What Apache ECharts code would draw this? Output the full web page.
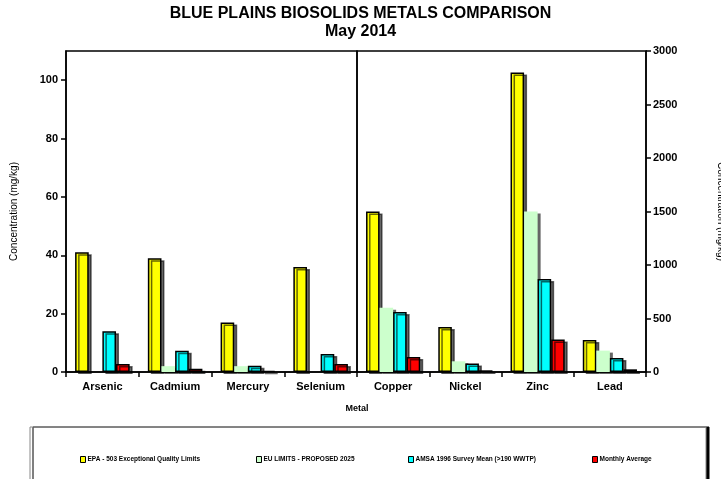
<!DOCTYPE html>
<html lang="en">
<head>
    <meta charset="UTF-8">
    <title>Blue Plains Biosolids Metals Comparison</title>
    <script src="https://cdn.jsdelivr.net/npm/echarts@6/dist/echarts.min.js"></script>
    <style>
        html, body { margin: 0; padding: 0; background: #fff; }
        #main { width: 721px; height: 479px; }
    </style>
</head>
<body>
<div id="main"></div>
<script type="text/javascript">
    // categories: left half uses the small scale, right half the big one
    var metalsLeft = ['Arsenic', 'Cadmium', 'Mercury', 'Selenium'];
    var metalsRight = ['Copper', 'Nickel', 'Zinc', 'Lead'];

    var seriesNames = ['EPA - 503 Exceptional Quality Limits', 'EU LIMITS - PROPOSED 2025',
        'AMSA 1996 Survey Mean (>190 WWTP)', 'Monthly Average'];

    var epaLeft = [41, 39, 17, 36];
    var euLeft = [null, 2, 2, null];
    var amsaLeft = [14, 7.3, 2.1, 6.2];
    var monthlyLeft = [2.7, 1.1, 0.3, 2.7];

    var epaRight = [1500, 420, 2800, 300];
    var euRight = [600, 100, 1500, 200];
    var amsaRight = [560, 79, 869, 131];
    var monthlyRight = [141, 16, 303, 25];

    var leftTicks = {min: 0, max: 110, interval: 20};
    var rightTicks = {min: 0, max: 3000, interval: 500};

    var font = "'Liberation Sans', Arial, sans-serif";
    var colors = ['#ffff00', '#ccffcc', '#00ffff', '#ff0000'];

    function barStyle(i) {
        return {
            color: colors[i],
            borderColor: i === 1 ? 'transparent' : '#000',
            borderWidth: i === 1 ? 0 : 1.5,
            shadowColor: 'rgba(0,0,0,0.6)',
            shadowOffsetX: 3,
            shadowOffsetY: 2,
            shadowBlur: 0
        };
    }

    var leftData = [epaLeft, euLeft, amsaLeft, monthlyLeft];
    var rightData = [epaRight, euRight, amsaRight, monthlyRight];
    var series = [];
    for (var i = 0; i < 4; i++) {
        series.push({
            name: seriesNames[i], type: 'bar', xAxisIndex: 0, yAxisIndex: 0,
            barGap: 0, barCategoryGap: '25%', itemStyle: barStyle(i), data: leftData[i]
        });
    }
    for (var j = 0; j < 4; j++) {
        series.push({
            name: seriesNames[j], type: 'bar', xAxisIndex: 1, yAxisIndex: 1,
            barGap: 0, barCategoryGap: '25%', itemStyle: barStyle(j), data: rightData[j]
        });
    }

    var legendX = [75, 251, 403, 587];
    var legends = [];
    for (var k = 0; k < 4; k++) {
        legends.push({
            data: [seriesNames[k]],
            left: legendX[k], top: 451,
            icon: 'rect', itemWidth: 5, itemHeight: 6, itemGap: 2,
            selectedMode: false,
            itemStyle: {borderColor: '#000', borderWidth: 1},
            textStyle: {fontFamily: font, fontSize: 6.5, fontWeight: 'bold', color: '#000', padding: [0, 0, 0, -3]}
        });
    }

    var catAxis = function (grid, data) {
        return {
            type: 'category', gridIndex: grid, data: data,
            axisLine: {lineStyle: {color: '#000', width: 1.5}},
            axisTick: {show: true, length: 5, lineStyle: {color: '#000', width: 1.5}},
            axisLabel: {fontFamily: font, fontSize: 11, fontWeight: 'bold', color: '#000', margin: 9}
        };
    };

    var option = {
        animation: false,
        title: {
            text: 'BLUE PLAINS BIOSOLIDS METALS COMPARISON\nMay 2014',
            left: 'center', top: 0,
            textStyle: {fontFamily: font, fontSize: 16, fontWeight: 'bold', color: '#000', lineHeight: 18}
        },
        legend: legends,
        grid: [
            {left: 66, right: 364, top: 51, bottom: 107, show: true, borderColor: '#000', borderWidth: 1.5, outerBoundsMode: 'none'},
            {left: 357, right: 75, top: 51, bottom: 107, show: true, borderColor: '#000', borderWidth: 1.5, outerBoundsMode: 'none'}
        ],
        xAxis: [catAxis(0, metalsLeft), catAxis(1, metalsRight)],
        yAxis: [
            {
                type: 'value', gridIndex: 0, position: 'left',
                min: leftTicks.min, max: leftTicks.max, interval: leftTicks.interval,
                name: 'Concentration (mg/kg)', nameLocation: 'middle', nameGap: 47,
                nameTextStyle: {fontFamily: font, fontSize: 10, color: '#000'},
                splitLine: {show: false},
                axisLine: {show: true, lineStyle: {color: '#000', width: 1.5}},
                axisTick: {show: true, length: 5, lineStyle: {color: '#000', width: 1.5}},
                axisLabel: {fontFamily: font, fontSize: 11, fontWeight: 'bold', color: '#000', margin: 8, showMaxLabel: false}
            },
            {
                type: 'value', gridIndex: 1, position: 'right',
                min: rightTicks.min, max: rightTicks.max, interval: rightTicks.interval,
                name: 'Concentration (mg/kg)', nameLocation: 'middle', nameGap: 70, nameRotate: -90,
                nameTextStyle: {fontFamily: font, fontSize: 10, color: '#000'},
                splitLine: {show: false},
                axisLine: {show: true, lineStyle: {color: '#000', width: 1.5}},
                axisTick: {show: true, length: 5, lineStyle: {color: '#000', width: 1.5}},
                axisLabel: {
                    fontFamily: font, fontSize: 11, fontWeight: 'bold', color: '#000', margin: 7,
                    formatter: function (v) { return String(v); }
                }
            }
        ],
        graphic: [
            {
                type: 'rect', z: -1,
                shape: {x: 30, y: 427, width: 676, height: 70},
                style: {fill: '#fff', stroke: '#888', lineWidth: 1, shadowColor: '#000', shadowOffsetX: 3, shadowBlur: 0}
            },
            {
                type: 'text', x: 357, y: 404,
                style: {text: 'Metal', font: 'bold 9px ' + font, fill: '#000', textAlign: 'center'}
            }
        ],
        series: series
    };

    var myChart = echarts.init(document.getElementById('main'));
    myChart.setOption(option);
</script>
</body>
</html>
